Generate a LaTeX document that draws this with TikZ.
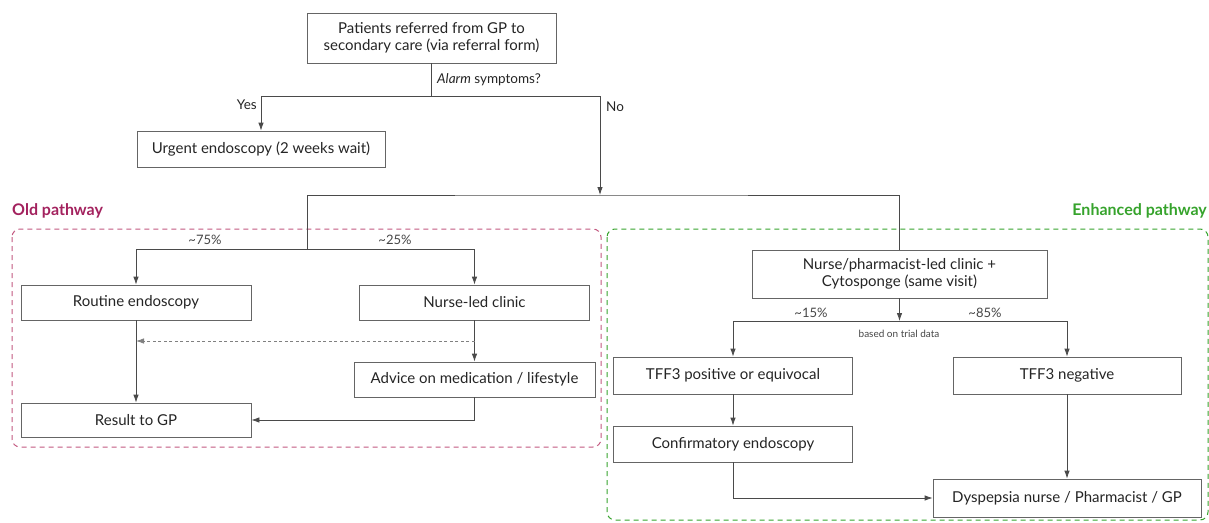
\documentclass[tikz,border=0pt]{standalone}
\usepackage{fontspec}
\setmainfont{Lato}
\usetikzlibrary{arrows.meta}
\definecolor{oldc}{HTML}{A3225E}
\definecolor{oldb}{HTML}{C2577F}
\definecolor{newc}{HTML}{36A32C}
\definecolor{linec}{HTML}{4A4A4A}
\definecolor{txtc}{HTML}{252525}
\begin{document}
\begin{tikzpicture}[x=1pt,y=-1pt,
  box/.style={draw=linec!85,line width=0.8pt,fill=white,inner sep=0pt,align=center,text=txtc,font=\fontsize{15}{16.5}\selectfont},
  conn/.style={draw=linec,line width=0.8pt},
  arr/.style={conn,-{Latex[length=8pt,width=5.5pt]}},
  pct/.style={text=txtc!85,font=\fontsize{13}{15}\selectfont,inner sep=0pt},
  lbl/.style={text=txtc,font=\fontsize{13.5}{15}\selectfont,inner sep=0pt}]
\useasboundingbox (0,0) rectangle (1209,522);
% regions
\draw[oldb,dashed,dash pattern=on 5pt off 4pt,line width=1pt,rounded corners=8pt] (12,229) rectangle (601,447);
\draw[newc,dashed,dash pattern=on 5pt off 4pt,line width=1pt,rounded corners=8pt] (607,229) rectangle (1208,520);
\node[anchor=west,text=oldc,font=\fontsize{16}{18}\selectfont\bfseries,inner sep=0pt] (oldlab) at (12,211) {Old pathway};
\node[anchor=east,text=newc,font=\fontsize{16}{18}\selectfont\bfseries,inner sep=0pt] (newlab) at (1207,211) {Enhanced pathway};
% nodes
\node[box,minimum width=249,minimum height=50] (top) at (431.5,38) {Patients referred from GP to\\secondary care (via referral form)};
\node[box,minimum width=248,minimum height=36] (urg) at (261,149) {Urgent endoscopy (2 weeks wait)};
\node[box,minimum width=230,minimum height=35] (rout) at (136,302.5) {Routine endoscopy};
\node[box,minimum width=230,minimum height=35] (nurse) at (474.5,302.5) {Nurse-led clinic};
\node[box,minimum width=241,minimum height=35] (adv) at (474.5,379.5) {Advice on medication / lifestyle};
\node[box,minimum width=230,minimum height=34] (res) at (136,420) {Result to GP};
\node[box,minimum width=295,minimum height=48] (np) at (899.5,274) {Nurse/pharmacist-led clinic +\\Cytosponge (same visit)};
\node[box,minimum width=239,minimum height=37] (pos) at (733,375.5) {TFF3 positive or equivocal};
\node[box,minimum width=228,minimum height=37] (neg) at (1067,375.5) {TFF3 negative};
\node[box,minimum width=239,minimum height=36] (conf) at (733,444) {Confirmatory endoscopy};
\node[box,minimum width=268,minimum height=38] (dys) at (1067,498) {Dyspepsia nurse / Pharmacist / GP};
% junction coordinates
\coordinate (j1) at (431.5,96);
\coordinate (j2) at (600,195);
\coordinate (j3) at (307,195);
\coordinate (j4) at (307,249);
\coordinate (j5) at (899.5,321);
\coordinate (j6) at (136,341);
\coordinate (j7) at (474.5,341);
% connectors
\draw[conn] (top.south) -- (j1);
\draw[arr] (j1) -| (urg.north);
\draw[arr] (j1) -| (j2);
\draw[conn] (j3) -- (j2) -- (j2 -| np.north) -- (np.north);
\draw[conn] (j3) -- (j4);
\draw[arr] (j4) -| (rout.north);
\draw[arr] (j4) -| (nurse.north);
\draw[arr] (rout.south) -- (res.north);
\draw[arr] (nurse.south) -- (adv.north);
\draw[arr,draw=linec!70,dashed,dash pattern=on 3pt off 2.5pt] (j7) -- (j6);
\draw[arr] (adv.south) |- (res.east);
\draw[arr] (np.south) -- (j5);
\draw[conn] (j5 -| pos.north) -- (j5 -| neg.north);
\draw[arr] (j5 -| pos.north) -- (pos.north);
\draw[arr] (j5 -| neg.north) -- (neg.north);
\draw[arr] (pos.south) -- (conf.north);
\draw[arr] (neg.south) -- (neg.south |- dys.north);
\draw[arr] (conf.south) |- (dys.west);
% labels
\node[lbl,anchor=west] (alarm) at (437,80) {\itshape Alarm\upshape{} symptoms?};
\node[lbl,anchor=east] (yes) at (257,105) {Yes};
\node[lbl,anchor=west] (no) at (606,107) {No};
\node[pct] (p75) at (205,240) {\textasciitilde 75\%};
\node[pct] (p25) at (395,240) {\textasciitilde 25\%};
\node[pct] (p15) at (811,313) {\textasciitilde 15\%};
\node[pct] (p85) at (985,313) {\textasciitilde 85\%};
\node[pct,font=\fontsize{10}{12}\selectfont] (trial) at (899,334) {based on trial data};
\end{tikzpicture}
\end{document}
